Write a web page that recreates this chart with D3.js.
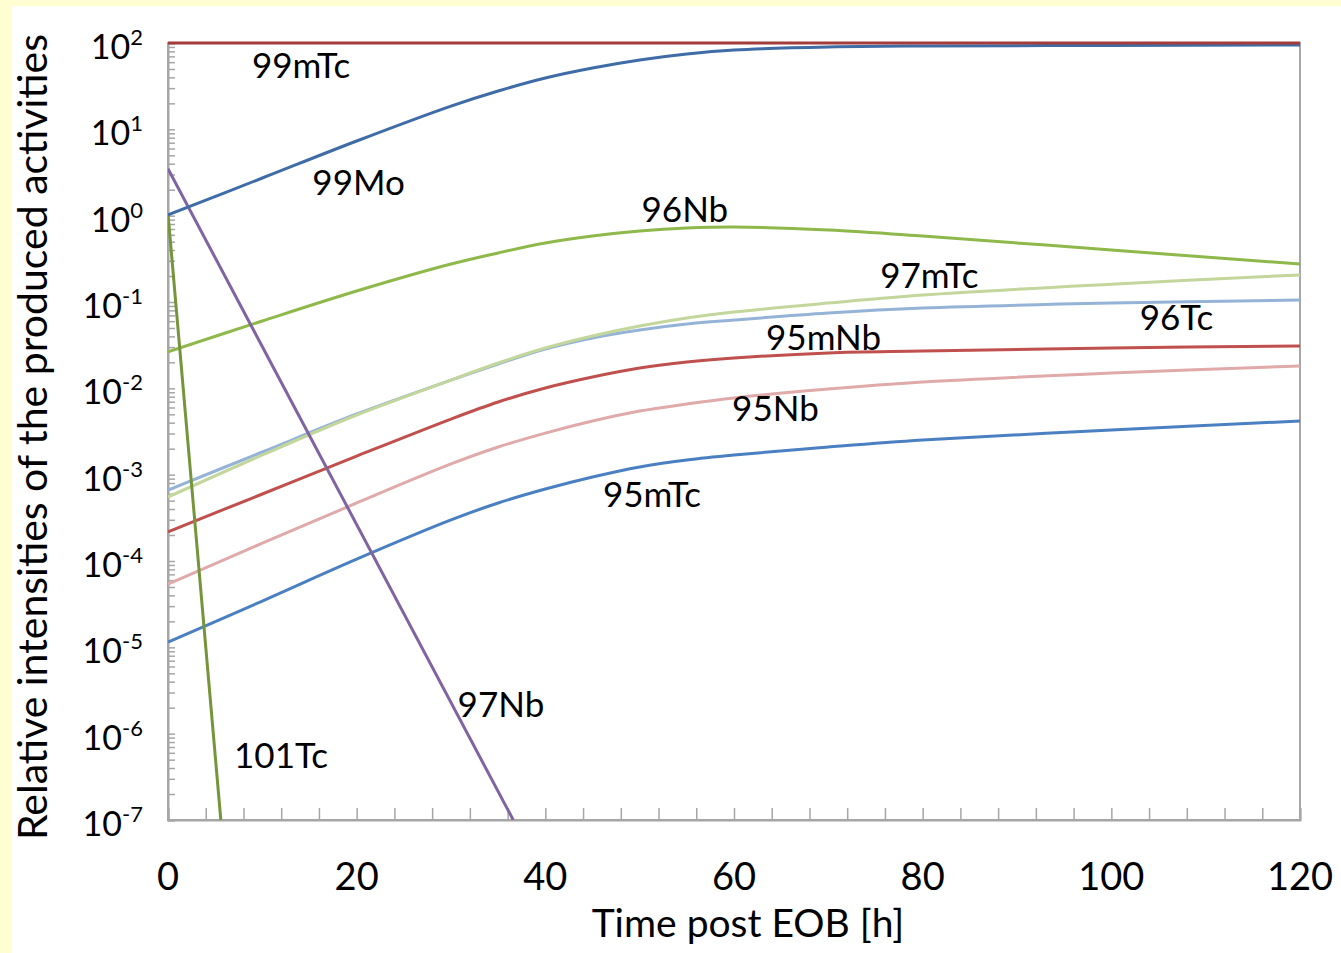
<!DOCTYPE html>
<html>
<head>
<meta charset="utf-8">
<script src="https://cdn.jsdelivr.net/npm/d3@7"></script>
<style>
  body { margin: 0; background: #fffdd2; }
  svg { display: block; }
  text { font-family: Lato, "Open Sans", sans-serif; fill: #000; }
</style>
</head>
<body>
<div id="chart"></div>
<script>
// hours after end of bombardment
var times = [0, 10, 20, 30, 35, 40, 45, 50, 55, 60, 70, 80, 100, 120];

// relative activities
var act99mTc = [100, 100, 100, 100, 100, 100, 100, 100, 100, 100, 100, 100, 100, 100];
var act99Mo  = [1.02, 2.73, 7.33, 18.6, 27.8, 39.3, 51.3, 63.6, 74.6, 83.0, 89.9, 92.3, 93.6, 94.8];
var act96Nb  = [0.0264, 0.0603, 0.134, 0.275, 0.370, 0.482, 0.581, 0.664, 0.719, 0.739, 0.682, 0.581, 0.400, 0.275];
var act97mTc = [5.51e-4, 1.69e-3, 4.91e-3, 0.01247, 0.01963, 0.0293, 0.0404, 0.0527, 0.0653, 0.0766, 0.0973, 0.1205, 0.161, 0.206];
var act96Tc  = [6.64e-4, 1.83e-3, 5.04e-3, 0.01247, 0.01914, 0.0285, 0.0383, 0.0474, 0.0556, 0.0618, 0.0745, 0.0851, 0.0973, 0.1054];
var act95mNb = [2.17e-4, 5.97e-4, 1.64e-3, 4.41e-3, 6.95e-3, 0.01009, 0.01352, 0.01718, 0.02018, 0.02244, 0.0257, 0.0270, 0.0293, 0.031];
var act95Nb  = [5.41e-5, 1.61e-4, 4.70e-4, 1.33e-3, 2.09e-3, 3.03e-3, 4.18e-3, 5.46e-3, 6.58e-3, 7.73e-3, 9.82e-3, 0.01183, 0.01503, 0.01815];
var act95mTc = [1.15e-5, 3.44e-5, 1.05e-4, 2.99e-4, 4.70e-4, 6.82e-4, 9.40e-4, 1.23e-3, 1.48e-3, 1.69e-3, 2.09e-3, 2.52e-3, 3.29e-3, 4.18e-3];

// short lived ones decay straight down (log scale)
var times97Nb = [0, 36.6];
var act97Nb   = [3.5, 1e-7];
var times101Tc = [0, 5.6];
var act101Tc   = [1.05, 1e-7];

var seriesNames  = ["99mTc", "99Mo", "96Nb", "97mTc", "96Tc", "95mNb", "95Nb", "95mTc", "97Nb", "101Tc"];
var seriesColors = ["#a33c3a", "#3f6ca6", "#8fb84a", "#c3d69b", "#95b3d7", "#c0504d", "#dfaaa9", "#4a80c2", "#8064a2", "#74953a"];

// label anchors (hours, activity) for the isotope names
var labelTimes  = [8.9, 15.3, 50.2, 75.5, 103, 63.4, 59.8, 46.1, 30.7, 7.0];
var labelValues = [39.4, 1.73, 0.845, 0.145, 0.0474, 0.0278, 4.18e-3, 4.2e-4, 1.56e-6, 4.0e-7];

var xMajor = [0, 20, 40, 60, 80, 100, 120];
var yDecades = [2, 1, 0, -1, -2, -3, -4, -5, -6, -7];

var width = 1341, height = 953;
var svg = d3.select("#chart").append("svg")
  .attr("width", width).attr("height", height);

// white panel on the yellow page
svg.append("rect").attr("x", 12).attr("y", 6)
  .attr("width", width - 12).attr("height", height - 6)
  .attr("fill", "#ffffff");

var x = d3.scaleLinear().domain([0, 120]).range([168, 1300]);
var y = d3.scaleLog().domain([1e-7, 100]).range([820, 43]);

// frame
svg.append("rect")
  .attr("x", x(0)).attr("y", y(100))
  .attr("width", x(120) - x(0)).attr("height", y(1e-7) - y(100))
  .attr("fill", "none").attr("stroke", "#a6a6a6").attr("stroke-width", 2);

// inward ticks
var yAxis = d3.axisRight(y).tickSize(7).tickFormat("");
svg.append("g").attr("transform", "translate(" + x(0) + ",0)").call(yAxis)
  .call(g => g.select(".domain").attr("stroke", "#a6a6a6").attr("stroke-width", 2))
  .call(g => g.selectAll(".tick line").attr("stroke", "#a6a6a6").attr("stroke-width", 1.5));

var xAxis = d3.axisTop(x).tickValues(d3.range(0, 121, 4)).tickSize(12).tickFormat("");
svg.append("g").attr("transform", "translate(0," + y(1e-7) + ")").call(xAxis)
  .call(g => g.select(".domain").attr("stroke", "#a6a6a6").attr("stroke-width", 2))
  .call(g => g.selectAll(".tick line").attr("stroke", "#a6a6a6").attr("stroke-width", 1.5));

// x tick labels
svg.selectAll(".xlab").data(xMajor).enter().append("text")
  .attr("class", "xlab")
  .attr("x", d => x(d))
  .attr("y", 890)
  .attr("text-anchor", "middle")
  .style("font-size", "38px")
  .text(d => d);

// y tick labels 10^n
var ylab = svg.selectAll(".ylab").data(yDecades).enter().append("text")
  .attr("class", "ylab")
  .attr("x", 143)
  .attr("y", d => y(Math.pow(10, d)) + 16)
  .attr("text-anchor", "end")
  .style("font-size", "34px");
ylab.append("tspan").text("10");
ylab.append("tspan").attr("dy", -14).style("font-size", "22px").text(d => d < 0 ? "-" + (-d) : d);

// axis titles
svg.append("text")
  .attr("x", 748).attr("y", 937)
  .attr("text-anchor", "middle")
  .style("font-size", "39px")
  .text("Time post EOB [h]");

svg.append("text")
  .attr("transform", "translate(47,437) rotate(-90)")
  .attr("text-anchor", "middle")
  .style("font-size", "41px")
  .text("Relative intensities of the produced activities");

// clip for lines
svg.append("clipPath").attr("id", "plotclip")
  .append("rect")
  .attr("x", x(0)).attr("y", y(100) - 3)
  .attr("width", x(120) - x(0)).attr("height", y(1e-7) - y(100) + 3);

var seriesTimes = [times, times, times, times, times, times, times, times, times97Nb, times101Tc];
var seriesValues = [act99mTc, act99Mo, act96Nb, act97mTc, act96Tc, act95mNb, act95Nb, act95mTc, act97Nb, act101Tc];

var line = d3.line()
  .x(d => x(d[0]))
  .y(d => y(d[1]))
  .curve(d3.curveCatmullRom.alpha(0.5));

var lines = svg.append("g").attr("clip-path", "url(#plotclip)");
// draw bottom-most first so 99mTc ends on top
var order = [7, 6, 5, 4, 3, 2, 9, 8, 1, 0];
order.forEach(function(i) {
  var pts = seriesTimes[i].map((t, k) => [t, seriesValues[i][k]]);
  lines.append("path")
    .datum(pts)
    .attr("d", line)
    .attr("fill", "none")
    .attr("stroke", seriesColors[i])
    .attr("stroke-width", 3);
});

// isotope labels
svg.selectAll(".iso").data(seriesNames).enter().append("text")
  .attr("class", "iso")
  .attr("x", (d, i) => x(labelTimes[i]))
  .attr("y", (d, i) => y(labelValues[i]))
  .style("font-size", "35px")
  .text(d => d);
</script>
</body>
</html>
